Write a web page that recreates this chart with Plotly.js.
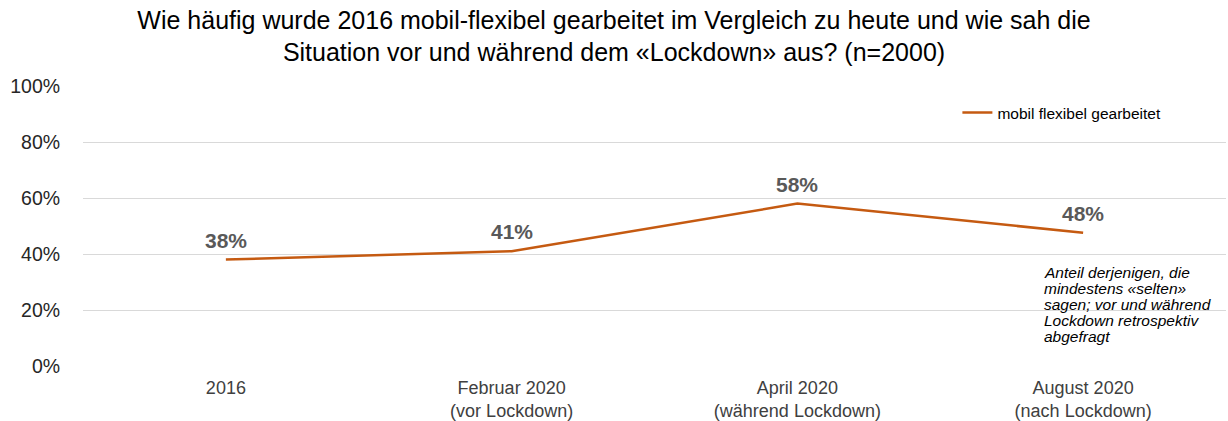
<!DOCTYPE html>
<html>
<head>
<meta charset="utf-8">
<script src="https://cdn.plot.ly/plotly-3.0.1.min.js"></script>
<style>html,body{margin:0;padding:0;background:#fff;}#chart{width:1228px;height:421px;}</style>
</head>
<body>
<div id="chart"></div>
<script>
var categories = ["2016", "Februar 2020<br>(vor Lockdown)", "April 2020<br>(während Lockdown)", "August 2020<br>(nach Lockdown)"];
var values = [38, 41, 58, 47.6];
var valueLabels = ["38%", "41%", "58%", "48%"];
var seriesName = "mobil flexibel gearbeitet";
var yTickVals = [0, 20, 40, 60, 80, 100];
var yTickText = ["0%", "20%", "40%", "60%", "80%", "100%"];
var titleText = "Wie häufig wurde 2016 mobil-flexibel gearbeitet im Vergleich zu heute und wie sah die<br>Situation vor und während dem «Lockdown» aus? (n=2000)";
var noteLines = ["Anteil derjenigen, die", "mindestens «selten»", "sagen; vor und während", "Lockdown retrospektiv", "abgefragt"];

var font = "Liberation Sans, Arial, sans-serif";

var trace = {
  type: "scatter",
  mode: "lines",
  x: categories.map(function(c, i){ return i; }),
  y: values,
  name: seriesName,
  line: {color: "#C55A11", width: 2.5},
  hoverinfo: "skip"
};

var annotations = values.map(function(v, i) {
  return {
    x: i, y: v, xref: "x", yref: "y",
    text: valueLabels[i], showarrow: false,
    yanchor: "bottom", yshift: 6,
    font: {family: font, size: 21, color: "#595959", weight: "bold"}
  };
});
// plot area: 86px (top) to 366px (bottom) -> 280px
noteLines.forEach(function(t, k) {
  var yc = 272 + k * 16.2;
  annotations.push({
    xref: "paper", yref: "paper", x: (1042 - 83) / 1143, y: (366 - yc) / 280,
    xanchor: "left", yanchor: "middle", align: "left",
    text: "<i>" + t + "</i>", showarrow: false,
    font: {family: font, size: 15.5, color: "#000"}
  });
});

var layout = {
  width: 1228, height: 421,
  margin: {l: 83, r: 2, t: 86, b: 55},
  paper_bgcolor: "#fff", plot_bgcolor: "#fff",
  title: {
    text: titleText, x: 0.5, xanchor: "center", y: 0.932, yanchor: "top",
    font: {family: font, size: 25, color: "#000"}
  },
  xaxis: {
    range: [-0.5, 3.5],
    tickvals: [0, 1, 2, 3], ticktext: categories,
    showgrid: false, zeroline: false, showline: false,
    ticks: "outside", ticklen: 5, tickcolor: "rgba(0,0,0,0)",
    tickfont: {family: font, size: 18, color: "#404040"}
  },
  yaxis: {
    range: [0, 100], tickvals: yTickVals, ticktext: yTickText,
    showgrid: true, gridcolor: "#d9d9d9", gridwidth: 1,
    zeroline: false, showline: false, ticks: "outside", ticklen: 18, tickcolor: "rgba(0,0,0,0)",
    tickfont: {family: font, size: 19.5, color: "#262626"}
  },
  showlegend: true,
  legend: {
    x: 0.765, y: 0.904, xanchor: "left", yanchor: "middle",
    bgcolor: "rgba(0,0,0,0)", font: {family: font, size: 15.5, color: "#000"},
    itemwidth: 30
  },
  annotations: annotations
};

Plotly.newPlot("chart", [trace], layout, {displayModeBar: false, staticPlot: true});
</script>
</body>
</html>
